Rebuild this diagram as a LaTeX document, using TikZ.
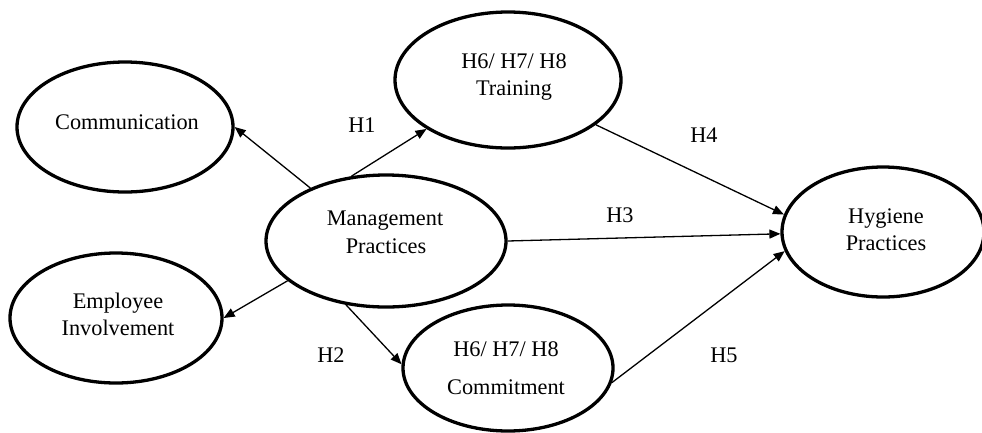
\documentclass[tikz,border=0pt]{standalone}
\usepackage{fontspec}
\setmainfont{Liberation Serif}
\usetikzlibrary{shapes.geometric,arrows.meta}
\begin{document}
\begin{tikzpicture}[x=1pt,y=-1pt,
  construct/.style={draw, ellipse, line width=3.3pt, inner sep=0pt},
  txt/.style={anchor=base, inner sep=0pt, font=\fontsize{22.3}{26}\selectfont},
  link/.style={line width=1.3pt, -{Triangle[length=11pt,width=9pt]}},
]
\useasboundingbox (0,0) rectangle (982,432);

% constructs
\node[construct, minimum width=216pt, minimum height=130pt] (comm)   at (125,127) {};
\node[construct, minimum width=226pt, minimum height=136pt] (train)  at (508,80)  {};
\node[construct, minimum width=240pt, minimum height=132pt] (mgmt)   at (386,241) {};
\node[construct, minimum width=212pt, minimum height=130pt] (emp)    at (116,318) {};
\node[construct, minimum width=210pt, minimum height=126pt] (commit) at (508,368) {};
\node[construct, minimum width=202pt, minimum height=130pt] (hyg)    at (883,232) {};

% construct names
\node[txt] (commT)   at (127,129) {Communication};
\node[txt] (trainA)  at (514,68)  {H6/ H7/ H8};
\node[txt] (trainB)  at (514,95)  {Training};
\node[txt] (mgmtA)   at (385,225) {Management};
\node[txt] (mgmtB)   at (386,253) {Practices};
\node[txt] (empA)    at (118,308) {Employee};
\node[txt] (empB)    at (118,335) {Involvement};
\node[txt] (commitA) at (506,356) {H6/ H7/ H8};
\node[txt] (commitB) at (506,394) {Commitment};
\node[txt] (hygA)    at (886,223) {Hygiene};
\node[txt] (hygB)    at (886,250) {Practices};

% paths
\draw[link] (mgmt.145) -- (comm.east);
\draw[link] (mgmt.118) -- (train.211);
\draw[link] (mgmt.202) -- (emp.east);
\draw[link] (mgmt.238) -- (commit.178);
\draw[link] (mgmt.east) -- (hyg.181);
\draw[link] (train.333) -- (hyg.170);
\draw[link] (commit.352) -- (hyg.191);

% hypothesis labels
\node[txt] (h1) at (362,132) {H1};
\node[txt] (h2) at (331,362) {H2};
\node[txt] (h3) at (620,222) {H3};
\node[txt] (h4) at (704,142) {H4};
\node[txt] (h5) at (724,362) {H5};
\end{tikzpicture}
\end{document}
